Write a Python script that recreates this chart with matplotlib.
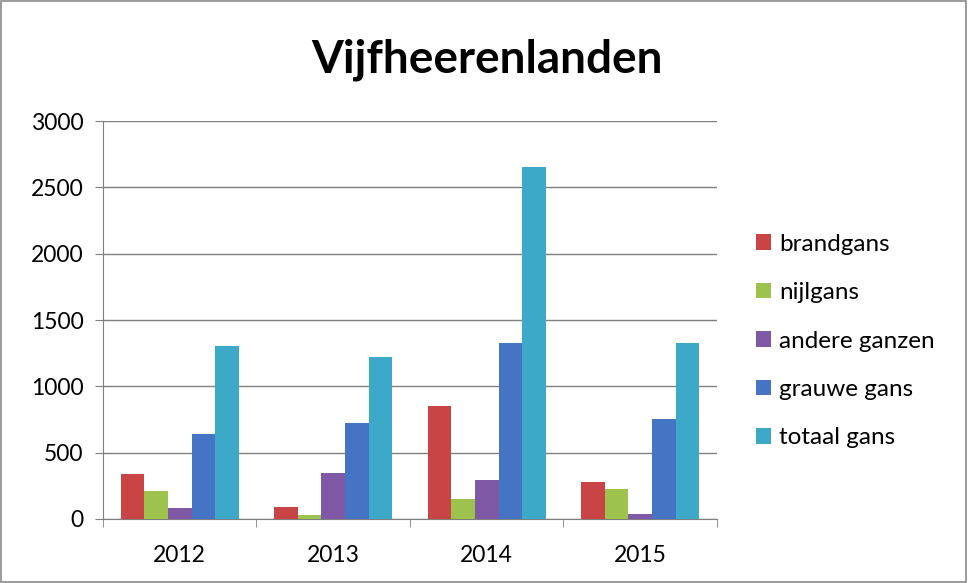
import matplotlib
matplotlib.use("Agg")
import matplotlib.pyplot as plt
import numpy as np
from matplotlib.patches import Rectangle

plt.rcParams['font.family'] = ['Lato', 'DejaVu Sans']

years = ["2012", "2013", "2014", "2015"]
series = ["brandgans", "nijlgans", "andere ganzen", "grauwe gans", "totaal gans"]
brandgans = [342, 89, 853, 278]
nijlgans = [210, 32, 153, 228]
andere_ganzen = [85, 346, 296, 39]
grauwe_gans = [638, 727, 1327, 752]
totaal_gans = [1306, 1218, 2652, 1327]
values = [brandgans, nijlgans, andere_ganzen, grauwe_gans, totaal_gans]
colors = ["#C94545", "#9DC24E", "#7F58A6", "#4674C4", "#3CA9C8"]

fig = plt.figure(figsize=(9.68, 5.83), dpi=100)
ax = fig.add_axes([0.1064, 0.1098, 0.6343, 0.6826])

x = np.arange(len(years))
group = 0.77
w = group / len(series)
for i, (name, vals, c) in enumerate(zip(series, values, colors)):
    ax.bar(x - group / 2 + w * (i + 0.5), vals, width=w, color=c, label=name, zorder=3)

ax.set_ylim(0, 3000)
ax.set_xlim(-0.5, 3.5)
ax.set_yticks(range(0, 3001, 500))
ax.yaxis.grid(True, color="#7f7f7f", linewidth=1.0, zorder=0)
ax.set_xticks(x)
ax.set_xticklabels(years)
ax.set_xticks(np.arange(-0.5, 4.0, 1.0), minor=True)
ax.tick_params(axis='x', which='major', length=0, pad=19, labelsize=16.5)
ax.tick_params(axis='x', which='minor', length=6, color="#7f7f7f", direction='out')
ax.tick_params(axis='y', length=6, color="#7f7f7f", pad=8, labelsize=16.5, direction='out')
for s in ["top", "right"]:
    ax.spines[s].set_visible(False)
for s in ["left", "bottom"]:
    ax.spines[s].set_color("#7f7f7f")

fig.text(0.503, 0.897, "Vijfheerenlanden", ha="center", va="center",
         fontsize=33, fontweight="bold")

handles, labels = ax.get_legend_handles_labels()
leg = fig.legend(handles, labels, loc="center left", bbox_to_anchor=(0.781, 0.415),
                 frameon=False, fontsize=17.5, handlelength=0.6, handleheight=0.6,
                 handletextpad=0.35, labelspacing=1.13, borderpad=0, borderaxespad=0)

fig.patches.append(Rectangle((0.001, 0.001), 0.997, 0.997, transform=fig.transFigure,
                             fill=False, edgecolor="#8a8a8a", linewidth=1.2))

fig.savefig("out.png", dpi=100)
